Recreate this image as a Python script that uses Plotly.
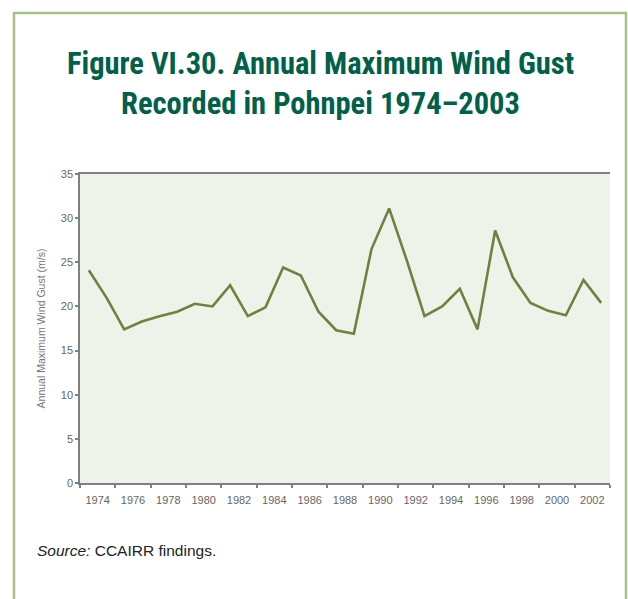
import plotly.graph_objects as go

years = list(range(1974, 2004))
gust = [24.1, 21.0, 17.4, 18.3, 18.9, 19.4, 20.3, 20.0, 22.4, 18.9,
        19.9, 24.4, 23.5, 19.4, 17.3, 16.9, 26.5, 31.1, 25.2, 18.9,
        20.0, 22.0, 17.4, 28.6, 23.3, 20.4, 19.5, 19.0, 23.0, 20.4]
label_years = list(range(1974, 2003, 2))
y_ticks = [0, 5, 10, 15, 20, 25, 30, 35]

W, H = 628, 599
L, R, T, B = 80, 18, 174, 116
pw, ph = W - L - R, H - T - B

def px_to_paper_x(px):
    return (px - L) / pw

def px_to_paper_y(py):
    return (H - B - py) / ph

fig = go.Figure()
fig.add_trace(go.Scatter(
    x=years, y=gust, mode="lines",
    line=dict(color="#6e8240", width=2.6),
    showlegend=False, hoverinfo="x+y"))

fig.update_layout(
    width=W, height=H,
    margin=dict(l=L, r=R, t=T, b=B),
    paper_bgcolor="white",
    plot_bgcolor="#eef3ea",
    font=dict(family="Liberation Sans, Arial, sans-serif", color="#666666"),
    xaxis=dict(
        range=[1973.5, 2003.5],
        tickmode="array",
        tickvals=[y + 0.5 for y in label_years],
        ticktext=[str(y) for y in label_years],
        ticks="", showgrid=False, zeroline=False,
        showline=True, linecolor="#808080", linewidth=1.5, mirror=True,
        tickfont=dict(size=11, color="#666666"),
        ticklabelstandoff=6,
        minor=dict(tickvals=[y - 0.5 for y in label_years] + [2003.5],
                   ticks="outside", ticklen=3, tickcolor="#808080", tickwidth=1.5,
                   showgrid=False),
    ),
    yaxis=dict(
        range=[0, 35],
        tickmode="array", tickvals=y_ticks,
        ticks="outside", ticklen=3, tickcolor="#808080", tickwidth=1.5,
        showgrid=False, zeroline=False,
        showline=True, linecolor="#808080", linewidth=1.5,
        tickfont=dict(size=11, color="#666666"),
        title=dict(text="Annual Maximum Wind Gust (m/s)",
                   font=dict(size=10.5, color="#777777"), standoff=13),
    ),
    shapes=[dict(
        type="rect", xref="paper", yref="paper",
        x0=px_to_paper_x(14), x1=px_to_paper_x(626),
        y0=px_to_paper_y(640), y1=px_to_paper_y(13),
        line=dict(color="#a9c08b", width=2.5), fillcolor="rgba(0,0,0,0)",
        layer="below")],
    annotations=[
        dict(text="<b>Figure VI.30. Annual Maximum Wind Gust<br>Recorded in Pohnpei 1974–2003</b>",
             xref="paper", yref="paper",
             x=px_to_paper_x(320), y=px_to_paper_y(83),
             xanchor="center", yanchor="middle", showarrow=False, align="center",
             font=dict(family="Liberation Sans Narrow, Arial Narrow, Roboto Condensed, sans-serif",
                       size=30.5, color="#00604a")),
        dict(text="<i>Source:</i> CCAIRR findings.",
             xref="paper", yref="paper",
             x=px_to_paper_x(35), y=px_to_paper_y(550),
             xanchor="left", yanchor="middle", showarrow=False,
             font=dict(family="Liberation Sans Narrow, Arial Narrow, sans-serif",
                       size=15.5, color="#222222")),
    ],
)

fig.write_html("out.html",
               config={"displayModeBar": False},
               post_script="document.body.style.margin='0px';document.body.style.overflow='hidden';")
